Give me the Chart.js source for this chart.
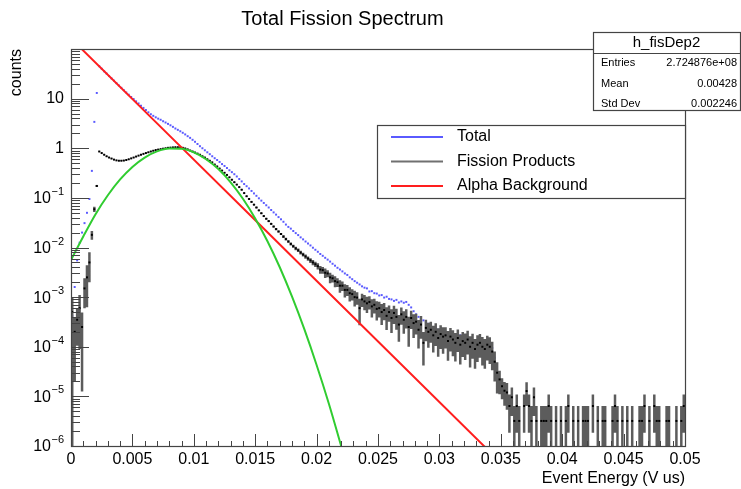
<!DOCTYPE html>
<html>
<head>
<meta charset="utf-8">
<title>Total Fission Spectrum</title>
<script src="https://cdn.jsdelivr.net/npm/chart.js@4.4.0/dist/chart.umd.min.js"></script>
<style>
  html, body { margin: 0; padding: 0; background: #fff; }
  #wrap { width: 741px; height: 489px; position: relative; }
</style>
</head>
<body>
<div id="wrap"><canvas id="spectrum"></canvas></div>
<script>
// energy histogram: 250 bins of 0.0002 V us between 0 and 0.05
const binWidth = 0.0002;

// Total (all events), per bin, starting at bin 0
const total = [
  4.2e-4, 1.6e-3, 5.5e-3, 0.0125, 0.02, 0.031, 0.05, 0.095, 0.35, 3.4,
  13, 45, 40, 35.5, 32, 28.5, 25.5, 23, 20.5, 18.4,
  16.5, 14.8, 13.3, 12.0, 10.8, 9.8, 8.8, 8.0, 7.2, 6.5,
  5.9, 5.3, 4.85, 4.5, 4.2, 3.95, 3.75, 3.5, 3.3, 3.1,
  2.9, 2.7, 2.5, 2.35, 2.2, 2.05, 1.9, 1.75, 1.62, 1.48,
  1.35, 1.22, 1.1, 1.0, 0.91, 0.83, 0.76, 0.69, 0.63, 0.58,
  0.53, 0.48, 0.44, 0.40, 0.36, 0.33, 0.30, 0.27, 0.24, 0.215,
  0.19, 0.172, 0.155, 0.138, 0.123, 0.11, 0.098, 0.088, 0.079, 0.071,
  0.064, 0.057, 0.051, 0.046, 0.041, 0.037, 0.033, 0.029, 0.026, 0.024,
  0.0215, 0.0195, 0.0178, 0.016, 0.0146, 0.0132, 0.012, 0.011, 0.0099, 0.009,
  0.0082, 0.0074, 0.0068, 0.0062, 0.0057, 0.0052, 0.0047, 0.0043, 0.0039, 0.0036,
  0.0033, 0.0030, 0.0028, 0.0025, 0.0023, 0.0021, 0.00195, 0.0018, 0.00165, 0.00155,
  0.0015, 0.0013, 0.00132, 0.0012, 0.00118, 0.00108, 0.0011, 0.00098, 0.00102, 0.00092,
  0.0009, 0.00084, 0.00088, 0.00078, 0.00082, 0.00077, 0.0008, 0.0007, 0.00062, 0.00052,
  0.00045, 0.0004, 0.00036, 0.00034, 0.00031, 0.00029, 0.00027, 0.00025, 0.00024, 0.00022,
  0.00022, 0.0002, 0.00019, 0.00019, 0.00017, 0.00017, 0.00016, 0.000155, 0.00017, 0.00015,
  0.000145, 0.00015, 0.000135, 0.00013, 0.000125, 0.00012, 0.000118, 0.000112, 0.000115, 0.000105,
  0.000108, 0.000095, 0.00006, 0.000025, 0.000012
];

// Fission products, per bin (null = empty bin)
const fission = [
  5e-4, 2e-4, 3.5e-4, 6e-4, 2.5e-4, 1.5e-3, 2.5e-3, 5e-3, 0.018, 0.059,
  0.174, 0.86, 0.80, 0.74, 0.69, 0.65, 0.62, 0.59, 0.57, 0.56,
  0.56, 0.565, 0.58, 0.60, 0.625, 0.65, 0.68, 0.71, 0.74, 0.77,
  0.80, 0.83, 0.86, 0.89, 0.92, 0.94, 0.96, 0.98, 1.0, 1.02,
  1.03, 1.04, 1.05, 1.05, 1.04, 1.02, 0.99, 0.95, 0.90, 0.86,
  0.82, 0.78, 0.74, 0.69, 0.65, 0.60, 0.56, 0.52, 0.47, 0.43,
  0.39, 0.355, 0.32, 0.29, 0.26, 0.232, 0.207, 0.185, 0.165, 0.146,
  0.125, 0.108, 0.095, 0.083, 0.073, 0.064, 0.056, 0.049, 0.043, 0.038,
  0.034, 0.030, 0.0265, 0.0235, 0.021, 0.0187, 0.0166, 0.0148, 0.0132, 0.0118,
  0.0106, 0.0096, 0.0088, 0.0079, 0.0072, 0.0066, 0.006, 0.0055, 0.005, 0.0046,
  0.0042, 0.0036, 0.0035, 0.0031, 0.003, 0.0025, 0.0024, 0.0021, 0.002, 0.0017,
  0.0017, 0.0014, 0.0014, 0.0012, 0.00115, 0.001, 0.00098, 0.0006, 0.0009, 0.00082,
  0.00075, 0.0008, 0.00065, 0.0007, 0.00058, 0.0006, 0.0005, 0.00055, 0.00042, 0.0005,
  0.00038, 0.00048, 0.0004, 0.00028, 0.00045, 0.00035, 0.0004, 0.00025, 0.00038, 0.0003,
  0.00032, 0.00022, 0.00028, 0.00012, 0.00024, 0.0002, 0.00022, 0.00017, 0.0002, 0.00015,
  0.00018, 0.00016, 0.00017, 0.00013, 0.00016, 0.00014, 0.00012, 0.00015, 0.00011, 0.00013,
  0.00012, 0.00014, 0.0001, 0.00012, 0.00009, 0.00011, 0.00012, 0.0001, 0.00009, 0.00011,
  0.0001, 0.00008, 0.00005, 0.00003, 2.2e-5, 1.6e-5, 1.3e-5, 1.2e-5, 6.4e-6, 9.6e-6,
  3.2e-6, 6.4e-6, 3.2e-6, null, 6.4e-6, 1.28e-5, 6.4e-6, 3.2e-6, 9.6e-6, 3.2e-6,
  null, 3.2e-6, 3.2e-6, 3.2e-6, 6.4e-6, 3.2e-6, null, 3.2e-6, null, 3.2e-6,
  null, 3.2e-6, 6.4e-6, null, 3.2e-6, null, 3.2e-6, null, 3.2e-6, 3.2e-6,
  3.2e-6, null, 6.4e-6, null, 3.2e-6, null, 3.2e-6, 3.2e-6, null, null,
  3.2e-6, 6.4e-6, 3.2e-6, null, 3.2e-6, null, 3.2e-6, null, 3.2e-6, null,
  null, 3.2e-6, 3.2e-6, 6.4e-6, null, 3.2e-6, null, 6.4e-6, 3.2e-6, 3.2e-6,
  null, null, 3.2e-6, 3.2e-6, null, null, 3.2e-6, null, 3.2e-6, 6.4e-6
];

// relative error of each fission bin, in percent
const fissionErr = [
  100, 90, 70, 85, 95, 60, 75, 60, 20, 12,
  5, 1, 1, 1, 1, 1, 1, 1, 1, 1,
  1, 1, 1, 1, 1, 1, 1, 1, 1, 1,
  1, 1, 1, 1, 1, 1, 1, 1, 1, 1,
  1, 1, 1, 1, 1, 1, 1, 1, 1, 1,
  1, 1, 1, 1, 1, 1, 1, 1, 1, 1,
  1, 1, 1, 1, 1, 2, 2, 2, 2, 2,
  2, 2, 2, 3, 3, 3, 3, 3, 3, 4,
  4, 4, 4, 5, 5, 5, 6, 6, 6, 7,
  7, 8, 8, 9, 9, 10, 10, 11, 12, 12,
  14, 18, 15, 22, 16, 24, 18, 25, 20, 28,
  22, 30, 25, 32, 26, 35, 28, 55, 30, 34,
  36, 30, 40, 33, 42, 35, 45, 38, 48, 36,
  50, 40, 45, 55, 38, 48, 42, 60, 40, 50,
  45, 58, 48, 65, 46, 52, 45, 55, 48, 58,
  50, 55, 46, 60, 50, 54, 58, 48, 60, 52,
  55, 50, 62, 52, 60, 55, 50, 58, 60, 52,
  55, 58, 60, 62, 50, 45, 50, 55, 71, 58,
  100, 71, 100, null, 71, 50, 71, 100, 58, 100,
  null, 100, 100, 100, 71, 100, null, 100, null, 100,
  null, 100, 71, null, 100, null, 100, null, 100, 100,
  100, null, 71, null, 100, null, 100, 100, null, null,
  100, 71, 100, null, 100, null, 100, null, 100, null,
  null, 100, 100, 71, null, 100, null, 71, 100, 100,
  null, null, 100, 100, null, null, 100, null, 100, 71
];

// alpha background fit (exponential)
const alphaX = [0, 0.0067, 0.0154, 0.0189, 0.0337];
const alphaY = [163, 3.77, 0.0283, 0.00395, 9.6e-7];

// fission peak fit
const fitX = [0, 0.001, 0.002, 0.003, 0.004, 0.005, 0.006, 0.007, 0.008, 0.009, 0.010, 0.011,
              0.012, 0.013, 0.014, 0.015, 0.016, 0.017, 0.018, 0.019, 0.020, 0.021, 0.022];
const fitY = [0.0056, 0.0167, 0.047, 0.113, 0.235, 0.42, 0.65, 0.864, 0.988, 0.973, 0.826, 0.60,
              0.38, 0.206, 0.096, 0.0386, 0.0134, 0.0040, 0.00102, 2.26e-4, 4.3e-5, 7.1e-6, 1.0e-6];

const xTicks = [0, 0.005, 0.01, 0.015, 0.02, 0.025, 0.03, 0.035, 0.04, 0.045, 0.05];
const yPowers = [-6, -5, -4, -3, -2, -1, 0, 1];

const legendLabels = ['Total', 'Fission Products', 'Alpha Background'];
const statsTitle = 'h_fisDep2';
const statsNames = ['Entries', 'Mean', 'Std Dev'];
const statsValues = ['2.724876e+08', '0.00428', '0.002246'];

const FONT = "'Liberation Sans', Arial, Helvetica, sans-serif";
Chart.defaults.font.family = FONT;
Chart.defaults.color = '#000';

const COLORS = {
  total: '#5a5aff',
  fission: '#000000',
  fissionBar: '#5c5c5c',
  fissionLegend: '#707070',
  alpha: '#ff1e1e',
  fit: '#30cc30'
};

const binCenter = i => (i + 0.5) * binWidth;

const totalPts = total.map((v, i) => ({x: binCenter(i), y: v}));
const fissionPts = [];
const fissionBars = [];
fission.forEach((v, i) => {
  if (v === null) return;
  const x = binCenter(i);
  const e = v * fissionErr[i] / 100;
  fissionPts.push({x, y: v});
  // vertical error bar, broken from the next one by a null point
  fissionBars.push({x, y: v - e > 0 ? v - e : 1e-8}, {x, y: v + e}, {x, y: null});
});
const alphaPts = alphaX.map((x, i) => ({x, y: alphaY[i]}));
const fitPts = fitX.map((x, i) => ({x, y: fitY[i]}));

// ROOT-like frame: inner ticks, y labels with exponents, legend and stats box
const rootDecor = {
  id: 'rootDecor',
  afterDatasetsDraw(chart) {
    const {ctx, chartArea: a, scales: {x, y}} = chart;
    ctx.save();
    ctx.strokeStyle = '#444';
    ctx.lineWidth = 1;
    ctx.beginPath();
    for (let k = 0; k <= 50; k++) {
      const px = Math.round(x.getPixelForValue(k * 0.001)) + 0.5;
      ctx.moveTo(px, a.bottom);
      ctx.lineTo(px, a.bottom - (k % 5 ? 5 : 12));
    }
    for (let p = -6; p < 2; p++) {
      for (let m = 1; m < 10; m++) {
        const py = Math.round(y.getPixelForValue(m * Math.pow(10, p))) + 0.5;
        ctx.moveTo(a.left, py);
        ctx.lineTo(a.left + (m === 1 ? 18 : 9), py);
      }
    }
    ctx.stroke();
    ctx.lineWidth = 1.2;
    ctx.strokeRect(a.left + 0.5, a.top + 0.5, a.right - a.left, a.bottom - a.top);

    ctx.fillStyle = '#000';
    ctx.textAlign = 'right';
    ctx.textBaseline = 'middle';
    const right = a.left - 7;
    yPowers.forEach(p => {
      const py = y.getPixelForValue(Math.pow(10, p));
      if (p === 0 || p === 1) {
        ctx.font = '16px ' + FONT;
        ctx.fillText(p === 0 ? '1' : '10', right, py);
      } else {
        const exp = '\u2212' + Math.abs(p);
        ctx.font = '11px ' + FONT;
        const w = ctx.measureText(exp).width;
        ctx.fillText(exp, right, py - 6);
        ctx.font = '16px ' + FONT;
        ctx.fillText('10', right - w - 0.5, py + 1);
      }
    });
    ctx.restore();
  },
  afterDraw(chart) {
    const {ctx, chartArea: a} = chart;
    ctx.save();

    // legend box, right edge on the frame
    const lw = 308, lh = 73;
    const lx = a.right - lw, ly = a.top + 76;
    ctx.fillStyle = '#fff';
    ctx.fillRect(lx, ly, lw, lh);
    ctx.strokeStyle = '#444';
    ctx.lineWidth = 1.2;
    ctx.strokeRect(lx + 0.5, ly + 0.5, lw, lh);
    const legendColors = [COLORS.total, COLORS.fissionLegend, COLORS.alpha];
    ctx.font = '16px ' + FONT;
    ctx.textAlign = 'left';
    ctx.textBaseline = 'middle';
    legendLabels.forEach((label, i) => {
      const cy = ly + 12 + i * 24.5;
      ctx.strokeStyle = legendColors[i];
      ctx.lineWidth = 2;
      ctx.beginPath();
      ctx.moveTo(lx + 14, cy);
      ctx.lineTo(lx + 66, cy);
      ctx.stroke();
      ctx.fillStyle = '#000';
      ctx.fillText(label, lx + 80, cy);
    });

    // statistics box
    const sx = 593, sy = 32, sw = 147, sh = 78;
    ctx.fillStyle = '#fff';
    ctx.fillRect(sx, sy, sw, sh);
    ctx.strokeStyle = '#444';
    ctx.lineWidth = 1.2;
    ctx.strokeRect(sx + 0.5, sy + 0.5, sw, sh);
    ctx.beginPath();
    ctx.moveTo(sx, sy + 21.5);
    ctx.lineTo(sx + sw, sy + 21.5);
    ctx.stroke();
    ctx.fillStyle = '#000';
    ctx.font = '15px ' + FONT;
    ctx.textAlign = 'center';
    ctx.fillText(statsTitle, sx + sw / 2, sy + 11);
    ctx.font = '11px ' + FONT;
    statsNames.forEach((name, i) => {
      const cy = sy + 31 + i * 20.5;
      ctx.textAlign = 'left';
      ctx.fillText(name, sx + 8, cy);
      ctx.textAlign = 'right';
      ctx.fillText(statsValues[i], sx + sw - 3, cy);
    });
    ctx.restore();
  }
};

new Chart(document.getElementById('spectrum'), {
  type: 'scatter',
  data: {
    datasets: [{
      label: 'Fit',
      data: fitPts,
      showLine: true,
      borderColor: COLORS.fit,
      borderWidth: 2,
      pointRadius: 0,
      cubicInterpolationMode: 'monotone'
    }, {
      label: 'Alpha Background',
      data: alphaPts,
      showLine: true,
      borderColor: COLORS.alpha,
      borderWidth: 2,
      pointRadius: 0
    }, {
      label: 'Fission Products',
      data: fissionPts,
      pointStyle: 'rect',
      pointRadius: 1.4,
      backgroundColor: COLORS.fission,
      borderWidth: 0
    }, {
      label: 'Fission Products errors',
      data: fissionBars,
      showLine: true,
      spanGaps: false,
      borderColor: COLORS.fissionBar,
      borderWidth: 2.5,
      pointRadius: 0
    }, {
      label: 'Total',
      data: totalPts,
      pointStyle: 'rect',
      pointRadius: 1.4,
      backgroundColor: COLORS.total,
      borderWidth: 0
    }]
  },
  options: {
    responsive: true,
    maintainAspectRatio: false,
    animation: false,
    events: [],
    layout: {
      padding: {left: 0, right: 56, top: 0, bottom: 0}
    },
    plugins: {
      legend: {display: false},
      tooltip: {enabled: false},
      title: {
        display: true,
        text: 'Total Fission Spectrum',
        color: '#000',
        font: {size: 20, weight: 'normal'},
        padding: {top: 7, bottom: 18}
      }
    },
    scales: {
      x: {
        type: 'linear',
        min: 0,
        max: 0.05,
        grid: {display: false, drawTicks: false},
        border: {display: false},
        afterBuildTicks: s => { s.ticks = xTicks.map(v => ({value: v})); },
        afterFit: s => { s.height = 43; },
        ticks: {
          autoSkip: false,
          maxRotation: 0,
          padding: 4,
          color: '#000',
          font: {size: 16},
          callback: v => String(+v.toFixed(4))
        },
        title: {
          display: true,
          text: 'Event Energy (V us)',
          align: 'end',
          color: '#000',
          font: {size: 16},
          padding: {top: 0, bottom: 1}
        }
      },
      y: {
        type: 'logarithmic',
        min: 1e-6,
        max: 100,
        grid: {display: false, drawTicks: false},
        border: {display: false},
        ticks: {display: false},
        afterFit: s => { s.width = 71; },
        title: {
          display: true,
          text: 'counts',
          align: 'end',
          color: '#000',
          font: {size: 16},
          padding: {top: 7, bottom: 0}
        }
      }
    }
  },
  plugins: [rootDecor]
});
</script>
</body>
</html>
